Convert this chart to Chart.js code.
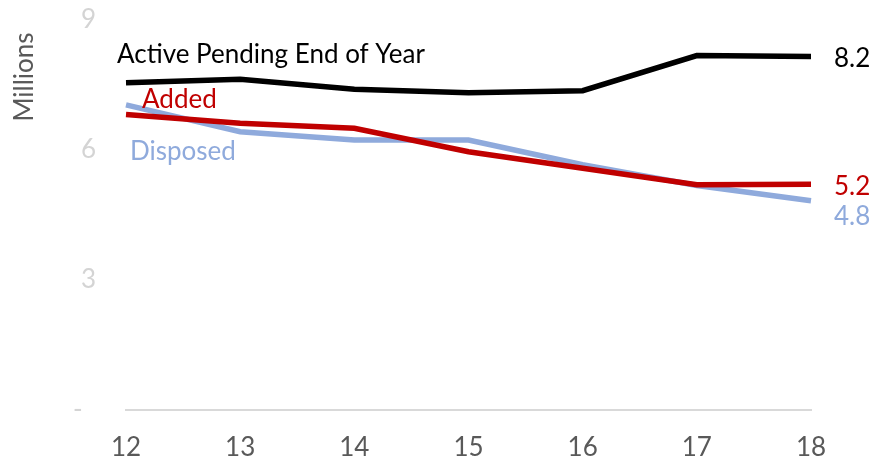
<!DOCTYPE html>
<html>
<head>
<meta charset="utf-8">
<script src="https://cdn.jsdelivr.net/npm/chart.js@4.4.1/dist/chart.umd.min.js"></script>
<style>
  html, body { margin: 0; padding: 0; background: #fff; }
  #wrap { width: 882px; height: 462px; }
</style>
</head>
<body>
<div id="wrap"><canvas id="chart" width="882" height="462"></canvas></div>
<script>
// ---------------- Data ----------------
const years = ["12", "13", "14", "15", "16", "17", "18"];
const pending = [7.55, 7.63, 7.40, 7.32, 7.37, 8.18, 8.16];
const added = [6.82, 6.62, 6.50, 5.96, 5.58, 5.20, 5.21];
const disposed = [7.04, 6.42, 6.23, 6.23, 5.66, 5.18, 4.83];
const yTicks = [0, 3, 6, 9];
const endLabels = ["8.2", "5.2", "4.8"];

const FONT = "Lato, 'Open Sans', sans-serif";
const FS = 26;

// ---------------- Labels plugin ----------------
const labelPlugin = {
  id: "labels",
  afterDatasetsDraw(chart) {
    const ctx = chart.ctx;
    const xs = chart.scales.x;
    const ys = chart.scales.y;
    const last = years.length - 1;
    ctx.save();
    ctx.font = FS + "px " + FONT;
    ctx.textBaseline = "middle";
    ctx.textAlign = "left";

    // series names near the start
    const x0 = xs.getPixelForValue(0);
    ctx.fillStyle = "#000000";
    ctx.fillText("Active Pending End of Year", x0 - 9, ys.getPixelForValue(pending[0]) - 28);
    ctx.fillStyle = "#c00000";
    ctx.fillText("Added", x0 + 16, ys.getPixelForValue(added[0]) - 15);
    ctx.fillStyle = "#8faadc";
    ctx.fillText("Disposed", x0 + 4, ys.getPixelForValue(disposed[0]) + 47);

    // end values
    const xe = xs.getPixelForValue(last) + 23;
    ctx.fillStyle = "#000000";
    ctx.fillText(endLabels[0], xe, ys.getPixelForValue(pending[last]) + 2);
    ctx.fillStyle = "#c00000";
    ctx.fillText(endLabels[1], xe, ys.getPixelForValue(added[last]) + 2);
    ctx.fillStyle = "#8faadc";
    ctx.fillText(endLabels[2], xe, ys.getPixelForValue(disposed[last]) + 16);

    // axis title
    ctx.translate(25, 77);
    ctx.rotate(-Math.PI / 2);
    ctx.textAlign = "center";
    ctx.fillStyle = "#595959";
    ctx.fillText("Millions", 0, 0);
    ctx.restore();
  }
};

document.addEventListener("DOMContentLoaded", () => {
  const ctx = document.getElementById("chart").getContext("2d");

  new Chart(ctx, {
    type: "line",
    data: {
      labels: years,
      datasets: [
        { label: "Added", data: added, borderColor: "#c00000", borderWidth: 5.5, order: 1 },
        { label: "Active Pending End of Year", data: pending, borderColor: "#000000", borderWidth: 5.5, order: 0 },
        { label: "Disposed", data: disposed, borderColor: "#8faadc", borderWidth: 5.5, order: 2 }
      ]
    },
    options: {
      responsive: false,
      animation: false,
      events: [],
      elements: {
        point: { radius: 0 },
        line: { tension: 0, borderCapStyle: "butt", borderJoinStyle: "miter" }
      },
      layout: { padding: { top: 20, right: 71, left: 0, bottom: 0 } },
      plugins: {
        legend: { display: false },
        tooltip: { enabled: false }
      },
      scales: {
        x: {
          offset: false,
          grid: { display: false },
          border: { display: true, color: "#d9d9d9", width: 2 },
          ticks: { color: "#595959", font: { size: FS, family: FONT }, padding: 14, maxRotation: 0 },
          afterFit: (s) => { s.height = 52; s.paddingLeft = 0; s.paddingRight = 0; }
        },
        y: {
          min: 0,
          max: 9,
          afterBuildTicks: (s) => { s.ticks = yTicks.map(v => ({ value: v })); },
          grid: { display: false },
          border: { display: false },
          ticks: {
            color: "#d4d4d4",
            font: { size: FS, family: FONT },
            padding: 22,
            callback: (v) => (v === 0 ? "-  " : String(v))
          },
          afterFit: (s) => { s.width = 126; s.paddingTop = 0; s.paddingBottom = 0; }
        }
      }
    },
    plugins: [labelPlugin]
  });
});
</script>
</body>
</html>
